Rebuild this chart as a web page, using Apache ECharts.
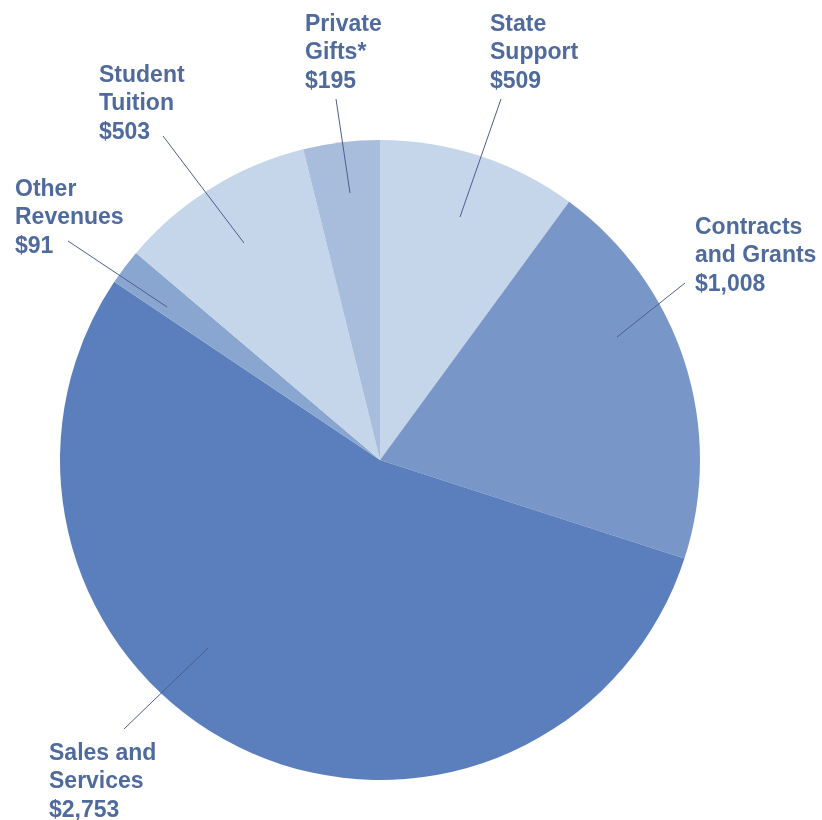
<!DOCTYPE html>
<html><head><meta charset="utf-8">
<script src="https://cdn.jsdelivr.net/npm/echarts@6/dist/echarts.min.js"></script>
<style>html,body{margin:0;padding:0;background:#fff}#c{width:822px;height:820px}</style>
</head><body><div id="c"></div>
<script>
// ---- data ----
const categories = ['State\nSupport', 'Contracts\nand Grants', 'Sales and\nServices', 'Other\nRevenues', 'Student\nTuition', 'Private\nGifts*'];
const values = [509, 1008, 2753, 91, 503, 195];
const valueLabels = ['$509', '$1,008', '$2,753', '$91', '$503', '$195'];

// ---- styles / layout (annotation placement only) ----
const sliceColors = ['#c5d6ea', '#7996c8', '#5b7fbd', '#89a6d0', '#c5d6ea', '#a8bcdc'];
const labelAnchors = [[490, 10], [695, 213], [49, 739], [15, 175], [99, 61], [305, 10]];
const leaderLines = [
  [[501, 99], [460, 217]],
  [[685, 283], [617, 337]],
  [[124, 729], [208, 648]],
  [[68, 241], [167, 307]],
  [[163, 136], [244, 243]],
  [[336, 99], [350, 193]]
];
const textColor = '#4f6a9c';
const lineColor = '#4a5f8f';

const data = categories.map((c, i) => ({ name: c, value: values[i], itemStyle: { color: sliceColors[i] } }));
const overlayData = categories.map((c, i) => ({ name: c, value: values[i] }));

const chart = echarts.init(document.getElementById('c'), null, { renderer: 'canvas' });
chart.setOption({
  animation: false,
  backgroundColor: '#ffffff',
  series: [
    {
      type: 'pie',
      center: [380, 460],
      radius: [0, 320],
      startAngle: 90,
      clockwise: true,
      silent: true,
      label: { show: false },
      labelLine: { show: false },
      itemStyle: { borderWidth: 0 },
      data: data
    },
    {
      type: 'pie',
      z: 5,
      center: [380, 460],
      radius: [0, 262],
      startAngle: 90,
      clockwise: true,
      silent: true,
      avoidLabelOverlap: false,
      itemStyle: { color: 'rgba(0,0,0,0)', borderWidth: 0 },
      label: {
        show: true,
        position: 'outside',
        formatter: (p) => p.name + '\n' + valueLabels[p.dataIndex],
        color: textColor,
        fontFamily: '"Liberation Sans", Arial, sans-serif',
        fontWeight: 'bold',
        fontSize: 23,
        lineHeight: 28.5
      },
      labelLine: { show: true, length: 10, length2: 0, smooth: false, lineStyle: { color: lineColor, width: 1 } },
      labelLayout: function (params) {
        const i = params.dataIndex;
        const a = labelAnchors[i];
        return { x: a[0], y: a[1], align: 'left', verticalAlign: 'top', labelLinePoints: leaderLines[i] };
      },
      data: overlayData
    }
  ]
});
</script>
</body></html>
